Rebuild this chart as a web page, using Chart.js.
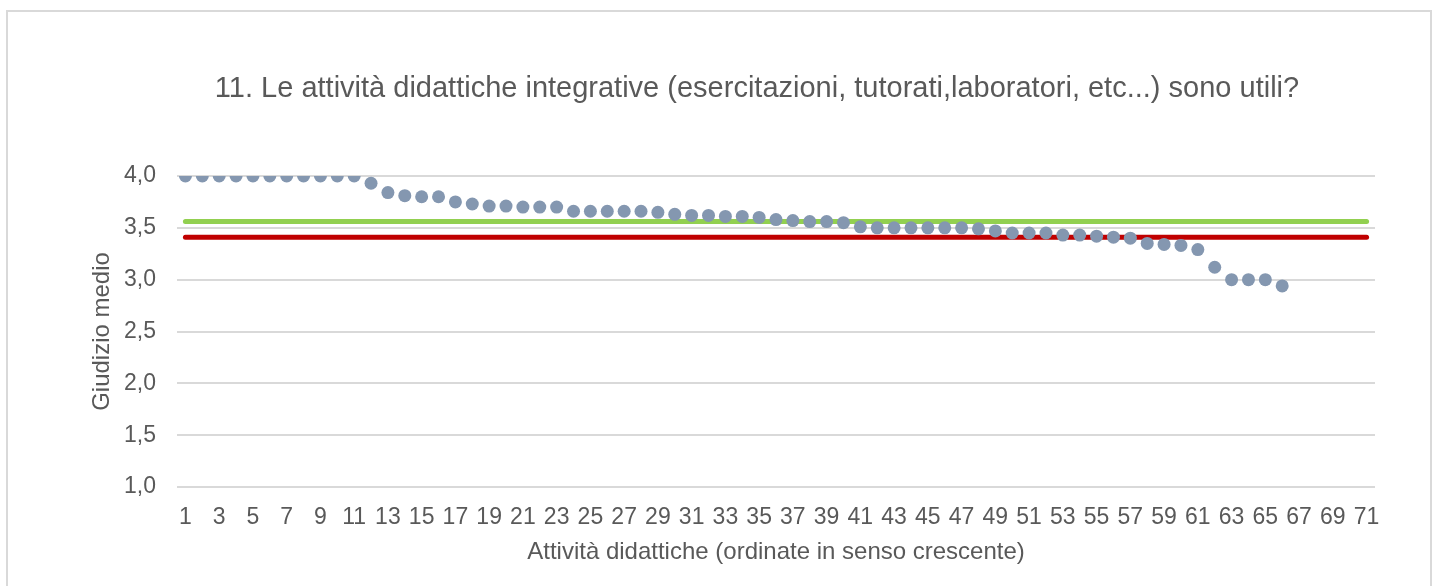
<!DOCTYPE html>
<html>
<head>
<meta charset="utf-8">
<script src="https://cdn.jsdelivr.net/npm/chart.js@4.4.1/dist/chart.umd.min.js"></script>
<style>
  body { margin: 0; background: #fff; }
  #frame { position: absolute; left: 6px; top: 10px; width: 1422px; height: 620px; border: 2px solid #d9d9d9; }
  #wrap { position: absolute; left: 0; top: 0; width: 1435px; height: 586px; }
</style>
</head>
<body>
<div id="frame"></div>
<div id="wrap"><canvas id="giudizi"></canvas></div>
<script>
const categories = [1, 2, 3, 4, 5, 6, 7, 8, 9, 10, 11, 12, 13, 14, 15, 16, 17, 18, 19, 20,
  21, 22, 23, 24, 25, 26, 27, 28, 29, 30, 31, 32, 33, 34, 35, 36, 37, 38, 39, 40,
  41, 42, 43, 44, 45, 46, 47, 48, 49, 50, 51, 52, 53, 54, 55, 56, 57, 58, 59, 60,
  61, 62, 63, 64, 65, 66, 67, 68, 69, 70, 71]

const giudizioMedio = [4.00, 4.00, 4.00, 4.00, 4.00, 4.00, 4.00, 4.00, 4.00, 4.00, 4.00,
  3.93, 3.84, 3.81, 3.80, 3.80, 3.75, 3.73, 3.71, 3.71, 3.70, 3.70, 3.70,
  3.66, 3.66, 3.66, 3.66, 3.66, 3.65, 3.63, 3.62, 3.62, 3.61, 3.61, 3.60,
  3.58, 3.57, 3.56, 3.56, 3.55, 3.51, 3.50, 3.50, 3.50, 3.50, 3.50, 3.50,
  3.49, 3.47, 3.45, 3.45, 3.45, 3.43, 3.43, 3.42, 3.41, 3.40,
  3.35, 3.34, 3.33, 3.29, 3.12, 3.00, 3.00, 3.00, 2.94]

const mediaVerde = 3.56
const mediaRossa = 3.41

const yTicks = [1.0, 1.5, 2.0, 2.5, 3.0, 3.5, 4.0]

const textColor = "#595959"
const fontFamily = "'Liberation Sans', Arial, sans-serif"

const ctx = document.getElementById("giudizi").getContext("2d")

const myChart = new Chart(ctx, {
  type: "line",
  data: {
    labels: categories,
    datasets: [{
      label: "Giudizio medio",
      data: giudizioMedio,
      showLine: false,
      pointRadius: 6.5,
      pointHoverRadius: 6.5,
      pointBackgroundColor: "#8497b0",
      pointBorderWidth: 0,
      order: 0
    }, {
      label: "Media verde",
      data: categories.map(() => mediaVerde),
      borderColor: "#92d050",
      borderWidth: 5,
      borderCapStyle: "round",
      pointRadius: 0,
      order: 1
    }, {
      label: "Media rossa",
      data: categories.map(() => mediaRossa),
      borderColor: "#c00000",
      borderWidth: 5,
      borderCapStyle: "round",
      pointRadius: 0,
      order: 2
    }]
  },
  options: {
    responsive: true,
    maintainAspectRatio: false,
    animation: false,
    layout: {
      padding: { left: 79, right: 0, top: 0, bottom: 0 }
    },
    plugins: {
      legend: { display: false },
      tooltip: { enabled: false },
      title: {
        display: true,
        text: "11. Le attività didattiche integrative (esercitazioni, tutorati,laboratori, etc...) sono utili?",
        color: textColor,
        font: { family: fontFamily, size: 29, weight: "normal" },
        padding: { top: 71.6, bottom: 69.6 }
      }
    },
    scales: {
      x: {
        offset: true,
        grid: { display: false, drawTicks: false },
        border: { display: false },
        ticks: {
          color: textColor,
          font: { family: fontFamily, size: 23 },
          autoSkip: false,
          maxRotation: 0,
          padding: 17,
          callback: function (value, index) {
            return index % 2 === 0 ? categories[index] : ""
          }
        },
        title: {
          display: true,
          text: "Attività didattiche (ordinate in senso crescente)",
          color: textColor,
          font: { family: fontFamily, size: 24 },
          padding: { top: 0, bottom: 19.6 }
        },
        afterFit: function (scale) {
          scale.height = 99
        }
      },
      y: {
        min: 1,
        max: 4,
        afterBuildTicks: function (scale) {
          scale.ticks = yTicks.map(v => ({ value: v }))
        },
        grid: { color: "#d9d9d9", lineWidth: 2, drawTicks: false },
        border: { display: false },
        ticks: {
          color: textColor,
          font: { family: fontFamily, size: 23 },
          padding: 21,
          callback: function (value) {
            return value.toFixed(1).replace(".", ",")
          }
        },
        title: {
          display: true,
          text: "Giudizio medio",
          color: textColor,
          font: { family: fontFamily, size: 24 },
          padding: { top: 8.6, bottom: 0 }
        },
        afterFit: function (scale) {
          scale.width = 98
        }
      },
      // empty right margin so the plot ends where the reference ends
      y2: {
        position: "right",
        grid: { display: false, drawTicks: false },
        border: { display: false },
        ticks: { display: false },
        afterFit: function (scale) {
          scale.width = 60
        }
      }
    }
  }
})
</script>
</body>
</html>
